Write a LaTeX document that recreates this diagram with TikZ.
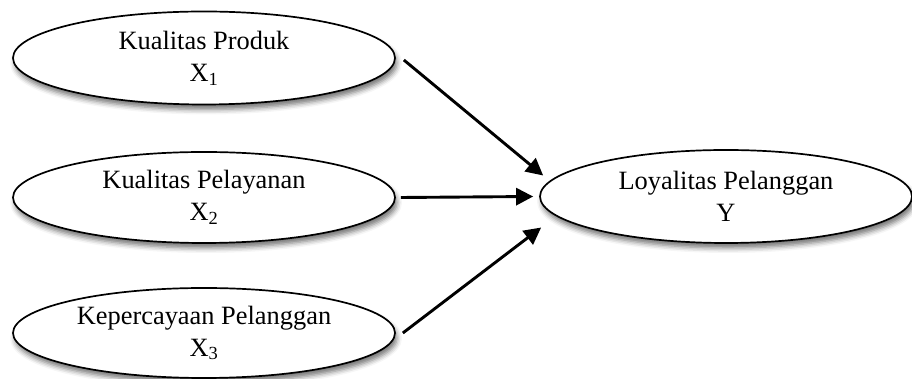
\documentclass[tikz,border=0pt]{standalone}
\usepackage{fontspec}
\setmainfont{Liberation Serif}
\usetikzlibrary{shapes.geometric,arrows.meta,shadows.blur}
\begin{document}
\begin{tikzpicture}[x=1pt,y=1pt,
  varbox/.style={ellipse,draw=black,line width=1.7pt,fill=white,inner sep=0pt,
    minimum width=382pt,minimum height=93pt,align=center,
    font=\fontsize{26.4}{32}\selectfont,
    blur shadow={shadow xshift=2pt,shadow yshift=-5pt,shadow blur radius=5pt,shadow opacity=55}},
  link/.style={line width=2.9pt,-{Triangle[length=17pt,width=17pt]}}]
\useasboundingbox (0,0) rectangle (912,379);
\node[varbox] (e1) at (204,321) {Kualitas Produk\\X\textsubscript{1}};
\node[varbox,minimum height=91pt] (e2) at (204,181.5) {Kualitas Pelayanan\\X\textsubscript{2}};
\node[varbox,minimum height=90pt] (e3) at (204,46) {Kepercayaan Pelanggan\\X\textsubscript{3}};
\node[varbox,minimum width=372pt] (L) at (726,182.5) {Loyalitas Pelanggan\\Y};
\draw[link] ([shift={(8pt,-2pt)}]e1.east) -- ([shift={(4pt,21pt)}]L.west);
\draw[link] ([xshift=5pt]e2.east) -- ([xshift=-6pt]L.west);
\draw[link] ([xshift=7pt]e3.east) -- ([shift={(2pt,-31pt)}]L.west);
\end{tikzpicture}
\end{document}
